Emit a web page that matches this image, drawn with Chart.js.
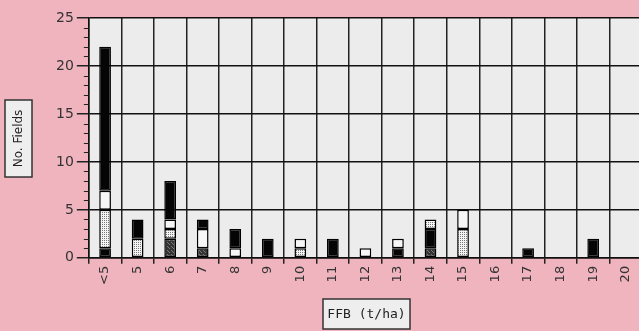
<!DOCTYPE html>
<html>
<head>
<meta charset="utf-8">
<style>
  html, body { margin: 0; padding: 0; overflow: hidden; background: #efb4bd; }
  #wrap { width: 644px; height: 331px; }
</style>
<script src="https://cdn.jsdelivr.net/npm/chart.js@4/dist/chart.umd.min.js"></script>
</head>
<body>
<div id="wrap"><canvas id="myChart"></canvas></div>
<script>
// FFB yield classes (t/ha)
let classes = ["<5", "5", "6", "7", "8", "9", "10", "11", "12", "13", "14", "15", "16", "17", "18", "19", "20"];
// segments, bottom to top of each stack
let greyLow   = [0, 0, 2, 1, 0, 0, 0, 0, 0, 0, 1, 0, 0, 0, 0, 0, 0];
let blackLow  = [1, 0, 0, 0, 0, 2, 0, 2, 0, 1, 2, 0, 0, 1, 0, 2, 0];
let dotted    = [4, 2, 1, 0, 0, 0, 1, 0, 0, 0, 1, 3, 0, 0, 0, 0, 0];
let white     = [2, 0, 1, 2, 1, 0, 1, 0, 1, 1, 0, 2, 0, 0, 0, 0, 0];
let blackHigh = [15, 2, 4, 1, 2, 0, 0, 0, 0, 0, 0, 0, 0, 0, 0, 0, 0];
let yTicks = [0, 5, 10, 15, 20, 25];

var ctx = document.getElementById("myChart");

function makePattern(bg, dot, cells) {
	var c = document.createElement("canvas");
	c.width = 4;
	c.height = 4;
	var g = c.getContext("2d");
	g.fillStyle = bg;
	g.fillRect(0, 0, 4, 4);
	g.fillStyle = dot;
	for (let p of cells) {
		g.fillRect(p[0], p[1], 1, 1);
	}
	return g.createPattern(c, "repeat");
}
var dotPattern = makePattern("#f4f4f4", "#777", [[0, 0], [2, 2], [2, 0], [0, 2]]);
var greyPattern = makePattern("#333", "#7a7a7a", [[1, 0], [3, 2], [0, 3]]);

// plot background, minor ticks, boxed axis titles
var decor = {
	id: "decor",
	beforeDraw(chart) {
		var a = chart.chartArea;
		var c = chart.ctx;
		c.save();
		c.fillStyle = "#ececec";
		c.fillRect(a.left, a.top, a.right - a.left, a.bottom - a.top);
		c.restore();
	},
	afterDraw(chart) {
		var a = chart.chartArea;
		var c = chart.ctx;
		var y = chart.scales.y;
		c.save();
		c.strokeStyle = "#222";
		c.lineWidth = 1;
		for (let v = 0; v <= 25; v++) {
			if (v % 5 == 0) continue;
			let py = Math.round(y.getPixelForValue(v)) + 0.5;
			c.beginPath();
			c.moveTo(a.left - 5, py);
			c.lineTo(a.left, py);
			c.stroke();
		}
		// y title
		c.fillStyle = "#eeeeee";
		c.fillRect(5, 100, 27, 77);
		c.strokeStyle = "#333";
		c.lineWidth = 1.5;
		c.strokeRect(5, 100, 27, 77);
		c.translate(19, 138.5);
		c.rotate(-Math.PI / 2);
		c.fillStyle = "#222";
		c.font = "12px 'DejaVu Sans'";
		c.textAlign = "center";
		c.textBaseline = "middle";
		c.fillText("No. Fields", 0, 0);
		c.setTransform(1, 0, 0, 1, 0, 0);
		// x title
		c.fillStyle = "#eeeeee";
		c.fillRect(323, 299, 87, 30);
		c.strokeRect(323, 299, 87, 30);
		c.fillStyle = "#222";
		c.font = "13px 'DejaVu Sans Mono'";
		c.textAlign = "center";
		c.textBaseline = "middle";
		c.fillText("FFB (t/ha)", 366.5, 314.5);
		c.restore();
	},
};

function seg(label, values, fill) {
	return {
		label: label,
		data: values,
		backgroundColor: fill,
		borderColor: "#000",
		borderWidth: 1.5,
		borderSkipped: false,
		barPercentage: 0.36,
		categoryPercentage: 1,
	};
}

var myChart = new Chart(ctx, {
	type: "bar",
	data: {
		labels: classes,
		datasets: [
			seg("grey", greyLow, greyPattern),
			seg("black", blackLow, "#050505"),
			seg("dotted", dotted, dotPattern),
			seg("white", white, "#f6f6f6"),
			seg("black2", blackHigh, "#050505"),
		],
	},
	options: {
		responsive: true,
		maintainAspectRatio: false,
		animation: false,
		layout: { padding: { left: 53, top: 18, right: 2, bottom: 44 } },
		plugins: { legend: { display: false }, tooltip: { enabled: false } },
		scales: {
			x: {
				stacked: true,
				grid: { color: "#222", lineWidth: 1.5, tickLength: 6, tickColor: "#222" },
				border: { color: "#111", width: 1.5 },
				ticks: {
					minRotation: 90,
					maxRotation: 90,
					padding: 2,
					color: "#333",
					font: { family: "DejaVu Sans", size: 13 },
				},
			},
			y: {
				stacked: true,
				min: 0,
				max: 25,
				afterBuildTicks: (axis) => {
					axis.ticks = yTicks.map((v) => ({ value: v }));
				},
				grid: { color: "#111", lineWidth: 1.5, tickLength: 12, tickColor: "#222" },
				border: { color: "#111", width: 1.5 },
				ticks: {
					padding: 3,
					color: "#333",
					font: { family: "DejaVu Sans", size: 14 },
				},
			},
		},
	},
	plugins: [decor],
});
</script>
</body>
</html>
